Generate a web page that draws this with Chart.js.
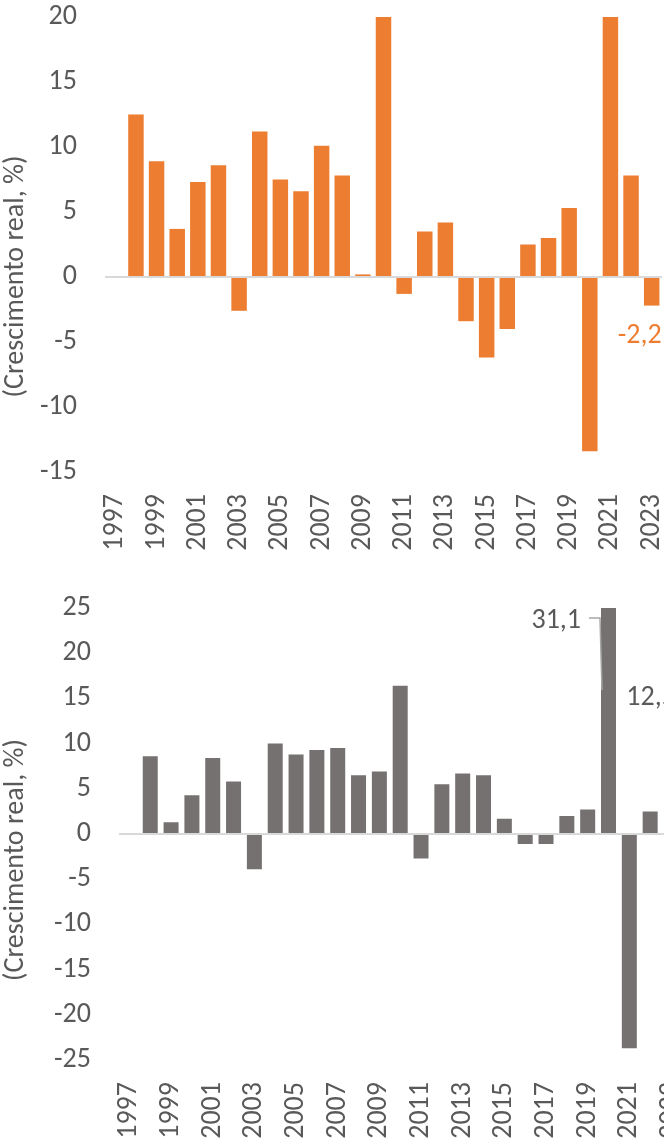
<!DOCTYPE html>
<html>
<head>
<meta charset="utf-8">
<script src="https://cdn.jsdelivr.net/npm/chart.js@4.4.1/dist/chart.umd.min.js"></script>
<style>
  html, body { margin: 0; padding: 0; background: #fff; overflow: hidden; }
  #page { position: relative; width: 664px; height: 1147px; overflow: hidden; }
  canvas { position: absolute; left: 0; }
  #chart-top { top: 0; }
  #chart-bottom { top: 575px; }
</style>
</head>
<body>
<div id="page">
  <canvas id="chart-top" width="720" height="570"></canvas>
  <canvas id="chart-bottom" width="720" height="600"></canvas>
</div>
<script>
const years = ['1997', '1998', '1999', '2000', '2001', '2002', '2003', '2004', '2005', '2006',
  '2007', '2008', '2009', '2010', '2011', '2012', '2013', '2014', '2015', '2016',
  '2017', '2018', '2019', '2020', '2021', '2022', '2023'];

// top panel (orange) - 2010 and 2021 run off the top of the axis
const topValues = [null, 12.5, 8.9, 3.7, 7.3, 8.6, -2.6, 11.2, 7.5, 6.6,
  10.1, 7.8, 0.2, 24.0, -1.3, 3.5, 4.2, -3.4, -6.2, -4.0,
  2.5, 3.0, 5.3, -13.4, 26.0, 7.8, -2.2];
const topTicks = [-15, -10, -5, 0, 5, 10, 15, 20];

// bottom panel (grey) - 2020 runs off the top
const bottomValues = [null, 8.6, 1.3, 4.3, 8.4, 5.8, -3.9, 10.0, 8.8, 9.3,
  9.5, 6.5, 6.9, 16.4, -2.7, 5.5, 6.7, 6.5, 1.7, -1.1,
  -1.1, 2.0, 2.7, 31.1, -23.7, 2.5, null];
const bottomTicks = [-25, -20, -15, -10, -5, 0, 5, 10, 15, 20, 25];

const axisTitle = '(Crescimento real, %)';
const topNote = { year: '2023', text: '-2,2' };
const bottomNotes = [{ year: '2020', text: '31,1' }, { year: '2021', text: '12,5' }];

const FONT = "Carlito, Lato, 'Open Sans', sans-serif";
const SIZE = 28;
const TEXT = '#595959';
const ORANGE = '#ED7D31';
const GREY = '#767171';

function makeOptions(ticks, yWidth, xHeight, padding) {
  return {
    responsive: false,
    animation: false,
    layout: { padding },
    plugins: { legend: { display: false }, tooltip: { enabled: false } },
    scales: {
      x: {
        grid: { display: false },
        border: { display: false },
        ticks: {
          color: TEXT,
          font: { family: FONT, size: SIZE },
          padding: 14,
          autoSkip: false,
          minRotation: 90,
          maxRotation: 90,
          callback: (v, i) => (i % 2 === 0 ? years[i] : '')
        },
        afterFit: s => { s.height = xHeight; }
      },
      y: {
        min: ticks[0],
        max: ticks[ticks.length - 1],
        afterBuildTicks: s => { s.ticks = ticks.map(v => ({ value: v })); },
        border: { display: false },
        grid: {
          drawTicks: false,
          lineWidth: 2,
          color: c => (c.tick && c.tick.value === 0 ? '#D9D9D9' : 'rgba(0,0,0,0)')
        },
        ticks: {
          color: TEXT,
          font: { family: FONT, size: SIZE },
          padding: 28
        },
        afterFit: s => {
          s.width = yWidth;
          // keep the plot edges where the layout padding puts them
          s.paddingTop = 0;
          s.paddingBottom = 0;
        }
      }
    }
  };
}

function drawTitle(chart, x, shift) {
  const { ctx, chartArea } = chart;
  ctx.save();
  ctx.translate(x, (chartArea.top + chartArea.bottom) / 2 + shift);
  ctx.rotate(-Math.PI / 2);
  ctx.font = `${SIZE}px ${FONT}`;
  ctx.fillStyle = TEXT;
  ctx.textAlign = 'center';
  ctx.textBaseline = 'middle';
  ctx.fillText(axisTitle, 0, 0);
  ctx.restore();
}

const topNotesPlugin = {
  id: 'topNotes',
  afterDraw(chart) {
    const { ctx } = chart;
    drawTitle(chart, 16, 32);
    const i = years.indexOf(topNote.year);
    const bar = chart.getDatasetMeta(0).data[i];
    ctx.save();
    ctx.font = `${SIZE}px ${FONT}`;
    ctx.fillStyle = ORANGE;
    ctx.textAlign = 'left';
    ctx.textBaseline = 'middle';
    ctx.fillText(topNote.text, bar.x - 34, bar.y + 30);
    ctx.restore();
  }
};

const bottomNotesPlugin = {
  id: 'bottomNotes',
  afterDraw(chart) {
    const { ctx, scales } = chart;
    drawTitle(chart, 16, 26);
    const meta = chart.getDatasetMeta(0);
    const a = meta.data[years.indexOf(bottomNotes[0].year)];
    const b = meta.data[years.indexOf(bottomNotes[1].year)];
    const left = a.x - a.width / 2;
    const yTop = scales.y.top;
    ctx.save();
    // leader line for the clipped bar
    ctx.strokeStyle = '#A6A6A6';
    ctx.lineWidth = 1.5;
    ctx.beginPath();
    ctx.moveTo(left - 12, yTop + 10);
    ctx.lineTo(left - 1, yTop + 10);
    ctx.lineTo(left + 1, yTop + 82);
    ctx.stroke();
    ctx.font = `${SIZE}px ${FONT}`;
    ctx.fillStyle = TEXT;
    ctx.textBaseline = 'middle';
    ctx.textAlign = 'right';
    ctx.fillText(bottomNotes[0].text, left - 20, yTop + 13);
    ctx.textAlign = 'left';
    ctx.fillText(bottomNotes[1].text, b.x - 3, scales.y.getPixelForValue(15));
    ctx.restore();
  }
};

new Chart(document.getElementById('chart-top'), {
  type: 'bar',
  data: {
    labels: years,
    datasets: [{ data: topValues, backgroundColor: ORANGE, categoryPercentage: 1, barPercentage: 0.75 }]
  },
  options: makeOptions(topTicks, 105, 88, { top: 17, right: 58, bottom: 10, left: 0 }),
  plugins: [topNotesPlugin]
});

new Chart(document.getElementById('chart-bottom'), {
  type: 'bar',
  data: {
    labels: years,
    datasets: [{ data: bottomValues, backgroundColor: GREY, categoryPercentage: 1, barPercentage: 0.72 }]
  },
  options: makeOptions(bottomTicks, 119, 105, { top: 33, right: 38.6, bottom: 10, left: 0 }),
  plugins: [bottomNotesPlugin]
});
</script>
</body>
</html>
